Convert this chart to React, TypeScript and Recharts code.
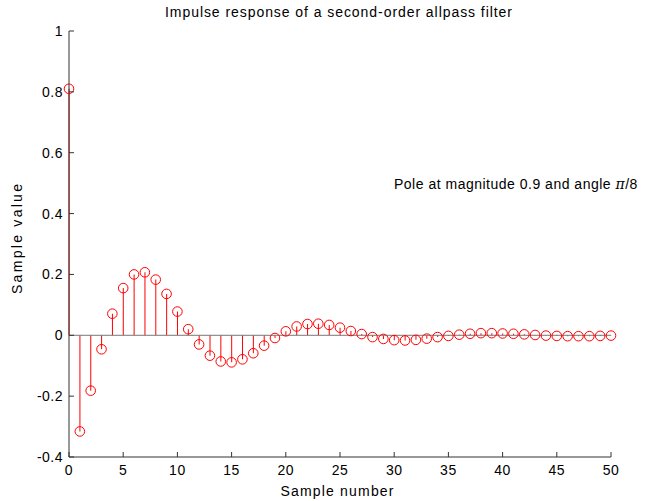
import React from 'react';
import { ComposedChart, Bar, Scatter, XAxis, YAxis, ReferenceLine } from 'recharts';

const sampleNumbers = [
  0, 1, 2, 3, 4, 5, 6, 7, 8, 9, 10, 11, 12, 13, 14, 15, 16, 17, 18, 19, 20,
  21, 22, 23, 24, 25, 26, 27, 28, 29, 30, 31, 32, 33, 34, 35, 36, 37, 38, 39, 40,
  41, 42, 43, 44, 45, 46, 47, 48, 49, 50,
];

const sampleValues = [
  0.81, -0.316, -0.182, -0.046, 0.071, 0.155, 0.2, 0.207, 0.183, 0.136, 0.078,
  0.02, -0.03, -0.067, -0.086, -0.089, -0.079, -0.059, -0.034, -0.009, 0.013,
  0.029, 0.037, 0.038, 0.034, 0.025, 0.014, 0.004, -0.006, -0.012, -0.016,
  -0.017, -0.015, -0.011, -0.006, -0.002, 0.002, 0.005, 0.007, 0.007, 0.006,
  0.005, 0.003, 0.001, -0.001, -0.002, -0.003, -0.003, -0.003, -0.002, -0.001,
];

const xTicks = [0, 5, 10, 15, 20, 25, 30, 35, 40, 45, 50];
const yTicks = [-0.4, -0.2, 0, 0.2, 0.4, 0.6, 0.8, 1];

const titleText = 'Impulse response of a second-order allpass filter';
const xLabelText = 'Sample number';
const yLabelText = 'Sample value';
const noteText = 'Pole at magnitude 0.9 and angle ';

const data = sampleNumbers.map((n, i) => ({ n, v: sampleValues[i] }));

const FONT = "'Liberation Sans', Arial, Helvetica, sans-serif";
const AXIS = '#333333';

const XTick = (props: any) => {
  const { x, y, payload } = props;
  return (
    <g>
      <line x1={x} x2={x} y1={y} y2={y - 5} stroke={AXIS} strokeWidth={1} />
      <text x={x} y={y + 18} textAnchor="middle" fontFamily={FONT} fontSize={14} letterSpacing={0.5} fill="#000">
        {String(payload.value)}
      </text>
    </g>
  );
};

const YTick = (props: any) => {
  const { x, y, payload } = props;
  return (
    <g>
      <line x1={x} x2={x + 5} y1={y} y2={y} stroke={AXIS} strokeWidth={1} />
      <text x={x - 6} y={y + 5} textAnchor="end" fontFamily={FONT} fontSize={14} letterSpacing={0.5} fill="#000">
        {String(payload.value)}
      </text>
    </g>
  );
};

const Circle = (props: any) => {
  const { cx, cy } = props;
  return <circle cx={cx} cy={cy} r={4.8} fill="none" stroke="#ff0000" strokeWidth={1} />;
};

export default function App() {
  return (
    <div style={{ position: 'absolute', left: 0, top: 0, width: 653, height: 501, background: '#fff' }}>
      <ComposedChart
        width={653}
        height={501}
        data={data}
        margin={{ top: 31, right: 42, bottom: 0, left: 0 }}
        barCategoryGap={0}
      >
        <XAxis
          dataKey="n"
          type="number"
          domain={[0, 50]}
          ticks={xTicks}
          height={44}
          tickSize={0}
          tickMargin={0}
          tickLine={false}
          axisLine={{ stroke: AXIS }}
          tick={<XTick />}
          interval={0}
        />
        <YAxis
          type="number"
          domain={[-0.4, 1]}
          ticks={yTicks}
          width={69}
          tickSize={0}
          tickMargin={0}
          tickLine={false}
          axisLine={{ stroke: AXIS }}
          tick={<YTick />}
          interval={0}
        />
        <Bar dataKey="v" fill="#ff0000" barSize={1} isAnimationActive={false} />
        <ReferenceLine y={0} stroke="#777777" strokeWidth={1} />
        <Scatter dataKey="v" shape={<Circle />} isAnimationActive={false} />
      </ComposedChart>
      <svg
        width={653}
        height={501}
        style={{ position: 'absolute', left: 0, top: 0, pointerEvents: 'none' }}
      >
        <text x={338.5} y={17} textAnchor="middle" fontFamily={FONT} fontSize={14} fill="#000" textLength={347} lengthAdjust="spacing">
          {titleText}
        </text>
        <text x={337} y={496} textAnchor="middle" fontFamily={FONT} fontSize={14} fill="#000" textLength={113} lengthAdjust="spacing">
          {xLabelText}
        </text>
        <text
          x={0}
          y={0}
          transform="translate(22, 239) rotate(-90)"
          textAnchor="middle"
          fontFamily={FONT}
          fontSize={14}
          fill="#000"
          textLength={110}
          lengthAdjust="spacing"
        >
          {yLabelText}
        </text>
        <text x={394} y={189} fontFamily={FONT} fontSize={14} fill="#000" letterSpacing={0.5}>
          {noteText}
          <tspan fontStyle="italic" fontFamily="'DejaVu Serif', 'Liberation Serif', serif">π</tspan>
          <tspan>/8</tspan>
        </text>
      </svg>
    </div>
  );
}
